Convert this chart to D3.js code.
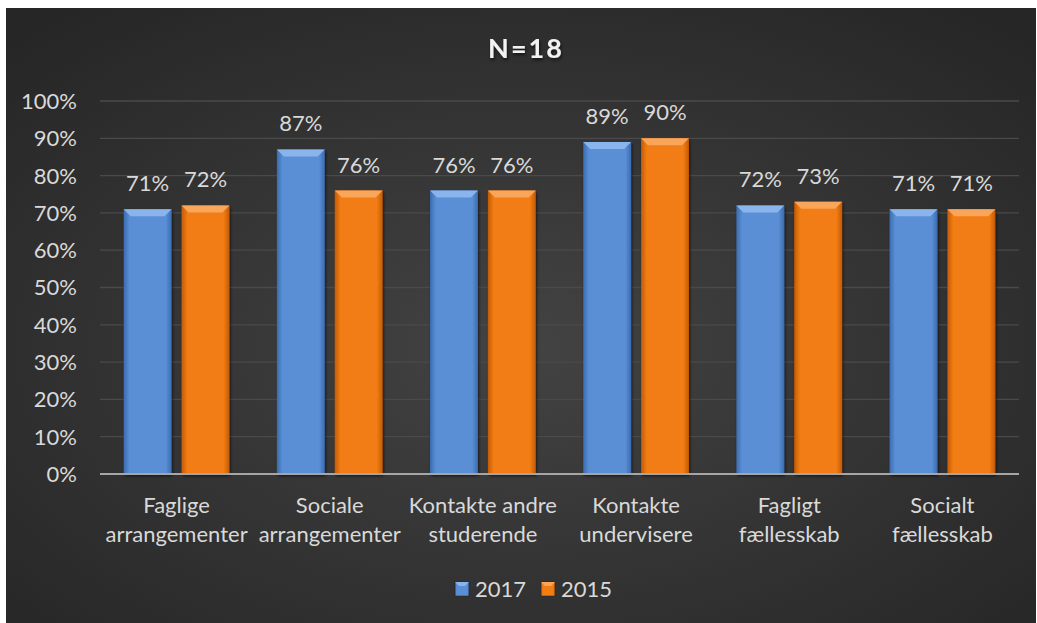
<!DOCTYPE html>
<html>
<head>
<meta charset="utf-8">
<script src="https://cdn.jsdelivr.net/npm/d3@7"></script>
<style>
	body { margin: 0; background: #ffffff; }
	svg text { font-family: Lato, "Open Sans", sans-serif; }
</style>
</head>
<body>
<div id="chart"></div>
<script>
var categories = [
	["Faglige", "arrangementer"],
	["Sociale", "arrangementer"],
	["Kontakte andre", "studerende"],
	["Kontakte", "undervisere"],
	["Fagligt", "fællesskab"],
	["Socialt", "fællesskab"]
];
var seriesNames = ["2017", "2015"];
var values2017 = [71, 87, 76, 89, 72, 71];
var values2015 = [72, 76, 76, 90, 73, 71];
var yTicks = [0, 10, 20, 30, 40, 50, 60, 70, 80, 90, 100];

function drawChart() {
	var width = 1037,
		height = 623;

	var svg = d3.select("#chart").append("svg")
		.attr("width", width)
		.attr("height", height);

	var defs = svg.append("defs");

	// dark panel background
	var bg = defs.append("radialGradient")
		.attr("id", "bg")
		.attr("cx", "50%").attr("cy", "55%").attr("r", "70%");
	bg.append("stop").attr("offset", "0%").attr("stop-color", "#434343");
	bg.append("stop").attr("offset", "100%").attr("stop-color", "#262626");

	var colors = {
		"2017": { edge: "#3a6cae", mid: "#5a8fd6", top: "#8ab4ec" },
		"2015": { edge: "#c25a05", mid: "#f27d12", top: "#f9a55a" }
	};
	seriesNames.forEach(function(s) {
		var g = defs.append("linearGradient")
			.attr("id", "bar" + s)
			.attr("x1", "0%").attr("x2", "100%").attr("y1", "0%").attr("y2", "0%");
		g.append("stop").attr("offset", "0%").attr("stop-color", colors[s].edge);
		g.append("stop").attr("offset", "12%").attr("stop-color", colors[s].mid);
		g.append("stop").attr("offset", "88%").attr("stop-color", colors[s].mid);
		g.append("stop").attr("offset", "100%").attr("stop-color", colors[s].edge);
	});

	var shadow = defs.append("filter").attr("id", "shadow")
		.attr("x", "-20%").attr("y", "-20%").attr("width", "140%").attr("height", "160%");
	shadow.append("feDropShadow")
		.attr("dx", 1).attr("dy", 2).attr("stdDeviation", 1.5)
		.attr("flood-color", "#000").attr("flood-opacity", 0.6);

	svg.append("rect")
		.attr("x", 6).attr("y", 8)
		.attr("width", width - 7).attr("height", height - 8)
		.style("fill", "url(#bg)");

	var left = 100, right = 1019, top = 101, bottom = 474;

	var y = d3.scaleLinear().domain([0, 100]).range([bottom, top]);
	var x0 = d3.scaleBand()
		.domain(d3.range(categories.length))
		.range([left, right]);
	var x1 = d3.scaleBand()
		.domain(seriesNames)
		.range([0, x0.bandwidth()])
		.paddingInner(0.172)
		.paddingOuter(0.41);

	// gridlines
	svg.selectAll("line.grid")
		.data(yTicks.slice(1))
		.enter()
			.append("line")
			.attr("class", "grid")
			.attr("x1", left).attr("x2", right)
			.attr("y1", function(d) { return y(d); })
			.attr("y2", function(d) { return y(d); })
			.style("stroke", "#4a4a4a")
			.style("stroke-width", "1.3px");

	// y tick labels
	svg.selectAll("text.ytick")
		.data(yTicks)
		.enter()
			.append("text")
			.attr("class", "ytick")
			.attr("x", 77)
			.attr("y", function(d) { return y(d); })
			.attr("dy", "0.36em")
			.attr("text-anchor", "end")
			.style("font-size", "22px")
			.style("fill", "#d9d9d9")
			.text(function(d) { return d + "%"; });

	var rows = [];
	categories.forEach(function(c, i) {
		rows.push({ cat: i, series: "2017", value: values2017[i] });
		rows.push({ cat: i, series: "2015", value: values2015[i] });
	});

	var bars = svg.selectAll("g.bar")
		.data(rows)
		.enter()
			.append("g")
			.attr("class", "bar")
			.attr("transform", function(d) { return "translate(" + (x0(d.cat) + x1(d.series)) + ",0)"; });

	var bw = x1.bandwidth(), bev = 7;

	bars.append("rect")
		.attr("x", 0)
		.attr("y", function(d) { return y(d.value); })
		.attr("width", bw)
		.attr("height", function(d) { return bottom - y(d.value); })
		.attr("filter", "url(#shadow)")
		.style("fill", function(d) { return "url(#bar" + d.series + ")"; });

	// top bevel
	bars.append("path")
		.attr("d", function(d) {
			var t = y(d.value);
			return "M0," + t + "L" + bw + "," + t + "L" + (bw - bev) + "," + (t + bev) + "L" + bev + "," + (t + bev) + "Z";
		})
		.style("fill", function(d) { return colors[d.series].top; });

	// value labels
	bars.append("text")
		.attr("x", bw / 2)
		.attr("y", function(d) { return y(d.value) - 18; })
		.attr("text-anchor", "middle")
		.style("font-size", "22px")
		.style("fill", "#d9d9d9")
		.text(function(d) { return d.value + "%"; });

	// baseline
	svg.append("line")
		.attr("x1", left).attr("x2", right)
		.attr("y1", bottom).attr("y2", bottom)
		.style("stroke", "#a6a6a6")
		.style("stroke-width", "2px");

	// category labels
	var catLabels = svg.selectAll("text.cat")
		.data(categories)
		.enter()
			.append("text")
			.attr("class", "cat")
			.attr("text-anchor", "middle")
			.style("font-size", "22px")
			.style("fill", "#d9d9d9");
	catLabels.selectAll("tspan")
		.data(function(d, i) { return d.map(function(t) { return { t: t, i: i }; }); })
		.enter()
			.append("tspan")
			.attr("x", function(d) { return x0(d.i) + x0.bandwidth() / 2; })
			.attr("y", function(d, j) { return 513 + j * 29; })
			.text(function(d) { return d.t; });

	// title
	svg.append("text")
		.attr("x", 526)
		.attr("y", 58)
		.attr("text-anchor", "middle")
		.attr("filter", "url(#shadow)")
		.style("font-size", "27px")
		.style("font-weight", "bold")
		.style("letter-spacing", "2px")
		.style("fill", "#f2f2f2")
		.text("N=18");

	// legend
	var legendX = [455, 541];
	var legend = svg.selectAll("g.legend")
		.data(seriesNames)
		.enter()
			.append("g")
			.attr("class", "legend")
			.attr("transform", function(d, i) { return "translate(" + legendX[i] + ",582)"; });
	legend.append("rect")
		.attr("width", 14).attr("height", 14)
		.style("fill", function(d) { return "url(#bar" + d + ")"; })
		.style("stroke", "#222")
		.style("stroke-width", "0.5px");
	legend.append("path")
		.attr("d", "M0,0L14,0L10,4L4,4Z")
		.style("fill", function(d) { return colors[d].top; });
	legend.append("text")
		.attr("x", 20)
		.attr("y", 7)
		.attr("dy", "0.36em")
		.style("font-size", "22px")
		.style("fill", "#d9d9d9")
		.text(function(d) { return d; });
}

drawChart();
</script>
</body>
</html>
